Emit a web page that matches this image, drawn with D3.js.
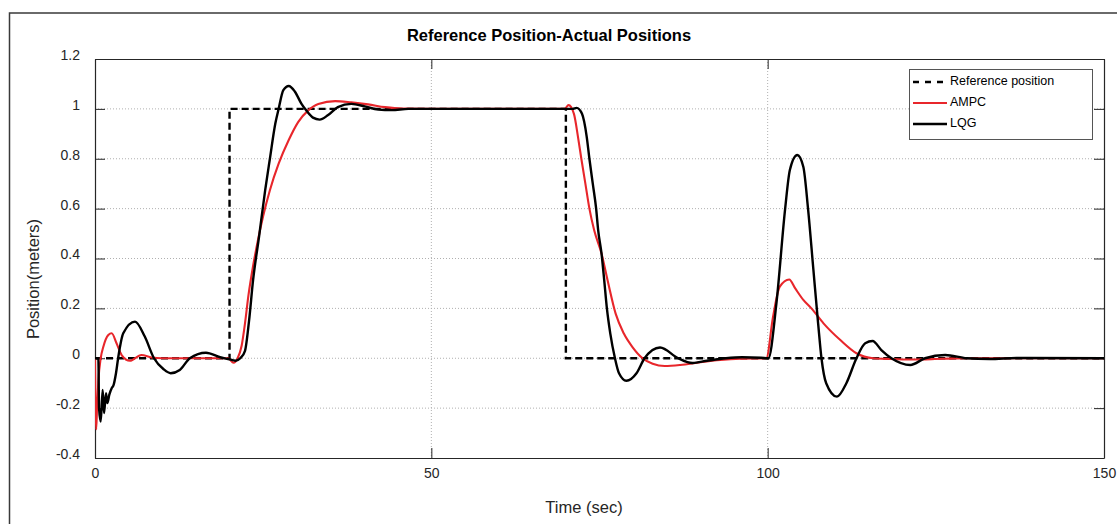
<!DOCTYPE html>
<html lang="en">
<head>
    <meta charset="UTF-8">
    <script src="https://cdnjs.cloudflare.com/ajax/libs/d3/7.8.5/d3.min.js"></script>
    <title>Reference Position-Actual Positions</title>
    <style>
        body { margin: 0; background: #fff; }
        svg { display: block; font-family: "Liberation Sans", Arial, sans-serif; }
        .tick text { font-size: 14px; fill: #262626; }
        .axis path, .axis line { stroke: #262626; }
        .grid-line { stroke: #b0b0b0; stroke-width: 1; stroke-dasharray: 1, 2; }
        .title { font-size: 16.5px; font-weight: bold; fill: #000; }
        .axis-label { font-size: 16.5px; fill: #262626; }
        .legend-text { font-size: 12.5px; fill: #000; }
    </style>
</head>
<body>
<script>
    // reference step
    const refTime = [0, 20, 70, 150];
    const refPos = [0, 1, 0, 0];

    // AMPC response
    const ampcTime = [0, 0.08, 0.18, 0.3, 0.5, 0.85, 1.24, 1.98, 2.48, 3.2, 3.96, 5.2, 6.9, 8.4, 10, 15, 19.8,
        20.6, 21.2, 21.8, 22.3, 22.8, 23.5, 24.2, 25.0, 26.0, 27.3, 28.8, 30.2, 31.7, 33.2, 35.7, 38.1, 40.6, 43.1,
        45.6, 50, 60, 69.8, 70.4, 71.2, 71.8, 72.3, 72.9, 73.5, 74.2, 75.3, 76.2, 77.4, 78.6, 79.9, 81.4, 82.9,
        84.7, 87, 90, 93, 96, 99.8, 100.8, 101.8, 103.2, 104.1, 105.3, 106.5, 108.3, 110.8, 113.2, 115.7, 118.2,
        121.6, 126, 130, 150];
    const ampcPos = [0, -0.2, -0.285, -0.2, -0.09, 0.0, 0.046, 0.093, 0.1, 0.06, 0.013, -0.01, 0.013, 0.003, 0, 0, 0,
        -0.018, 0, 0.05, 0.14, 0.25, 0.37, 0.47, 0.57, 0.674, 0.78, 0.875, 0.947, 0.994, 1.02, 1.031, 1.026, 1.018, 1.007,
        1.001, 1.0, 1.0, 1.0, 1.015, 0.98, 0.888, 0.8, 0.7, 0.6, 0.514, 0.42, 0.313, 0.179, 0.1, 0.045, 0.0, -0.022,
        -0.031, -0.027, -0.016, -0.007, -0.002, 0, 0.167, 0.287, 0.316, 0.28, 0.234, 0.2, 0.14, 0.073, 0.02, 0.0, -0.003,
        -0.005, -0.002, 0, 0];

    // LQG response
    const lqgTime = [0, 0.5, 0.6, 0.85, 1.14, 1.34, 1.64, 1.83, 2.13, 2.48, 2.73, 3.12, 3.47, 4.2, 5.95, 7.4, 8.77,
        10.2, 11.25, 12.6, 14.1, 16.5, 18.6, 19.8, 20.9, 21.6, 22.3, 22.9, 23.5, 24.4, 25.3, 26.0, 26.8, 27.3, 28.0,
        28.8, 29.7, 30.7, 31.4, 32.4, 33.4, 34.6, 36.1, 38.1, 40.1, 42.1, 44.1, 46.6, 50, 71.0, 71.6, 72.4, 73.1,
        73.5, 74.0, 74.5, 74.8, 75.3, 75.7, 76.1, 76.6, 77.3, 77.9, 79.0, 80.5, 81.7, 84.0, 86.7, 88.8, 91, 93.8,
        96.2, 99, 100.1, 101.3, 102.6, 103.3, 104.4, 105.3, 106.0, 106.8, 107.5, 108.0, 108.7, 110.3, 111.7, 113.2,
        114.5, 115.6, 116.9, 118.4, 121.2, 123.4, 126.4, 129.6, 133, 137, 150];
    const lqgPos = [0, 0, -0.2, -0.254, -0.127, -0.22, -0.14, -0.18, -0.146, -0.12, -0.11, -0.06, 0.006, 0.1, 0.147, 0.087, 0.0,
        -0.044, -0.06, -0.047, 0.0, 0.022, 0.004, -0.003, -0.01, 0.0, 0.03, 0.15, 0.313, 0.49, 0.674, 0.8, 0.94, 1.0, 1.075,
        1.092, 1.07, 1.02, 0.994, 0.965, 0.957, 0.974, 1.007, 1.02, 1.01, 0.997, 0.995, 1.0, 1.0, 1.0, 1.004, 0.98, 0.888,
        0.8, 0.7, 0.6, 0.514, 0.42, 0.313, 0.2, 0.1, 0.0, -0.06, -0.09, -0.06, 0.0, 0.043, 0.0, -0.019, -0.01, 0.0,
        0.004, 0.002, 0, 0.22, 0.6, 0.755, 0.815, 0.768, 0.6, 0.354, 0.14, 0.0, -0.1, -0.154, -0.1, 0.0,
        0.06, 0.069, 0.033, 0.0, -0.027, 0.0, 0.013, 0.0, -0.003, 0.001, 0];

    const xTicks = [0, 50, 100, 150];
    const yTicks = [-0.4, -0.2, 0, 0.2, 0.4, 0.6, 0.8, 1, 1.2];
    const yTickLabels = ['-0.4', '-0.2', '0', '0.2', '0.4', '0.6', '0.8', '1', '1.2'];

    const seriesNames = ['Reference position', 'AMPC', 'LQG'];

    const width = 1117;
    const height = 524;
    const plotLeft = 95;
    const plotRight = 1104;
    const plotTop = 59;
    const plotBottom = 458;
    const tickLen = 10;

    const svg = d3.select('body').append('svg')
        .attr('width', width)
        .attr('height', height);

    // рамка фигуры
    svg.append('rect')
        .attr('x', 9.5).attr('y', 13)
        .attr('width', 1200).attr('height', 600)
        .attr('fill', 'none')
        .attr('stroke', '#3a3a3a')
        .attr('stroke-width', 1.5);

    const x = d3.scaleLinear().domain([0, 150]).range([plotLeft, plotRight]);
    const y = d3.scaleLinear().domain([-0.4, 1.2]).range([plotBottom, plotTop]);

    // сетка
    const grid = svg.append('g');
    grid.selectAll('.gx')
        .data(xTicks.filter(function(d) { return d > 0 && d < 150; }))
        .enter().append('line')
        .attr('class', 'grid-line')
        .attr('x1', function(d) { return x(d); })
        .attr('x2', function(d) { return x(d); })
        .attr('y1', plotTop).attr('y2', plotBottom);
    grid.selectAll('.gy')
        .data(yTicks.filter(function(d) { return d > -0.4 && d < 1.2; }))
        .enter().append('line')
        .attr('class', 'grid-line')
        .attr('x1', plotLeft).attr('x2', plotRight)
        .attr('y1', function(d) { return y(d); })
        .attr('y2', function(d) { return y(d); });

    // оси
    svg.append('g')
        .attr('class', 'axis')
        .attr('transform', 'translate(0,' + plotBottom + ')')
        .call(d3.axisBottom(x).tickValues(xTicks).tickSizeInner(-tickLen).tickSizeOuter(0).tickPadding(10));
    svg.append('g')
        .attr('class', 'axis')
        .attr('transform', 'translate(0,' + plotTop + ')')
        .call(d3.axisTop(x).tickValues(xTicks).tickSizeInner(-tickLen).tickSizeOuter(0).tickFormat(''));
    const yAxisG = svg.append('g')
        .attr('class', 'axis')
        .attr('transform', 'translate(' + plotLeft + ',0)')
        .call(d3.axisLeft(y).tickValues(yTicks).tickSizeInner(-tickLen).tickSizeOuter(0).tickPadding(15)
            .tickFormat(function(d, i) { return yTickLabels[i]; }));
    yAxisG.selectAll('text').attr('y', -4);
    svg.append('g')
        .attr('class', 'axis')
        .attr('transform', 'translate(' + plotRight + ',0)')
        .call(d3.axisRight(y).tickValues(yTicks).tickSizeInner(-tickLen).tickSizeOuter(0).tickFormat(''));
    svg.selectAll('.axis .domain').attr('stroke-width', 1.2);

    // кривые
    svg.append('clipPath').attr('id', 'plot-clip')
        .append('rect')
        .attr('x', plotLeft).attr('y', plotTop)
        .attr('width', plotRight - plotLeft).attr('height', plotBottom - plotTop);

    const curves = svg.append('g').attr('clip-path', 'url(#plot-clip)');

    const refLine = d3.line()
        .x(function(d) { return x(d[0]); })
        .y(function(d) { return y(d[1]); })
        .curve(d3.curveStepAfter);
    const smoothLine = d3.line()
        .x(function(d) { return x(d[0]); })
        .y(function(d) { return y(d[1]); })
        .curve(d3.curveMonotoneX);

    curves.append('path')
        .datum(d3.zip(refTime, refPos))
        .attr('d', refLine)
        .attr('fill', 'none')
        .attr('stroke', '#000')
        .attr('stroke-width', 2.4)
        .attr('stroke-dasharray', '7,4');
    curves.append('path')
        .datum(d3.zip(ampcTime, ampcPos))
        .attr('d', smoothLine)
        .attr('fill', 'none')
        .attr('stroke', '#e8262b')
        .attr('stroke-width', 2.1)
        .attr('stroke-linejoin', 'round');
    curves.append('path')
        .datum(d3.zip(lqgTime, lqgPos))
        .attr('d', smoothLine)
        .attr('fill', 'none')
        .attr('stroke', '#000')
        .attr('stroke-width', 2.4)
        .attr('stroke-linejoin', 'round');

    // подписи
    svg.append('text').attr('class', 'title')
        .attr('x', 549).attr('y', 41)
        .attr('text-anchor', 'middle')
        .text('Reference Position-Actual Positions');
    svg.append('text').attr('class', 'axis-label')
        .attr('x', 584).attr('y', 513)
        .attr('text-anchor', 'middle')
        .text('Time (sec)');
    svg.append('text').attr('class', 'axis-label')
        .attr('transform', 'translate(39,279) rotate(-90)')
        .attr('text-anchor', 'middle')
        .text('Position(meters)');

    // легенда
    const legend = svg.append('g');
    legend.append('rect')
        .attr('x', 909.5).attr('y', 69.5)
        .attr('width', 183).attr('height', 70)
        .attr('fill', '#fff')
        .attr('stroke', '#555')
        .attr('stroke-width', 1);
    const legendStyles = [
        {color: '#000', width: 2.4, dash: '6,6'},
        {color: '#e8262b', width: 2.1, dash: null},
        {color: '#000', width: 2.4, dash: null}
    ];
    const legendY = [82, 103, 124];
    seriesNames.forEach(function(name, i) {
        legend.append('line')
            .attr('x1', 913).attr('x2', 947)
            .attr('y1', legendY[i]).attr('y2', legendY[i])
            .attr('stroke', legendStyles[i].color)
            .attr('stroke-width', legendStyles[i].width)
            .attr('stroke-dasharray', legendStyles[i].dash);
        legend.append('text').attr('class', 'legend-text')
            .attr('x', 950).attr('y', legendY[i] - 1)
            .attr('dy', '0.35em')
            .text(name);
    });
</script>
</body>
</html>
